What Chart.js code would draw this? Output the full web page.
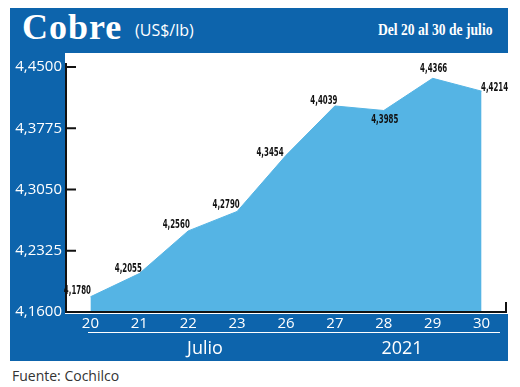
<!DOCTYPE html>
<html><head><meta charset="utf-8">
<script src="https://cdn.jsdelivr.net/npm/chart.js@4/dist/chart.umd.min.js"></script>
<style>
html,body{margin:0;padding:0;background:#fff;width:520px;height:387px;overflow:hidden;font-family:'Open Sans',sans-serif}
#panel{position:absolute;left:10px;top:8px;width:498px;height:353px;background:#0d64ac}
#title{position:absolute;left:22px;top:6px;color:#fff;font:bold 36px 'Liberation Serif',serif;letter-spacing:1px}
#unit{position:absolute;left:135px;top:19px;color:#fff;font:16px 'Open Sans',sans-serif}
#range{position:absolute;left:378px;top:20px;color:#fff;font:bold 17px 'Liberation Serif',serif;white-space:nowrap;transform:scaleX(0.8);transform-origin:left top}
#cv{position:absolute;left:10px;top:53px}
#sep{position:absolute;left:88px;top:332px;width:412px;height:1px;background:#fff}
.grp{position:absolute;top:335px;color:#fff;font:18px 'Open Sans',sans-serif;transform:translateX(-50%)}
#foot{position:absolute;left:12px;top:366px;color:#333;font:14px 'Open Sans',sans-serif}
</style></head>
<body>
<div id="panel"></div>
<div id="title">Cobre</div>
<div id="unit">(US$/lb)</div>
<div id="range">Del 20 al 30 de julio</div>
<canvas id="cv" width="498" height="308"></canvas>
<div id="sep"></div>
<div class="grp" style="left:205px">Julio</div>
<div class="grp" style="left:402px">2021</div>
<div id="foot">Fuente: Cochilco</div>
<script>
const categories = ['20','21','22','23','26','27','28','29','30'];
const copperPrice = [4.1780, 4.2055, 4.2560, 4.2790, 4.3454, 4.4039, 4.3985, 4.4366, 4.4214];
const yTickValues = [4.1600, 4.2325, 4.3050, 4.3775, 4.4500];

const fmt = v => v.toFixed(4).replace('.', ',');
const labelOffsets = [[-13,-6],[-11,-5],[-12,-6],[-11,-6],[-16,-2],[-11,-5],[1,10],[1,-9],[13,-3]];

const bgPlugin = {
  id: 'plotBg',
  beforeDraw(chart) {
    const {ctx, chartArea: a} = chart;
    ctx.save();
    ctx.fillStyle = '#ffffff';
    ctx.fillRect(a.left - 1, 0, chart.width - a.left + 1, a.bottom + 2);
    ctx.restore();
  }
};
const axisPlugin = {
  id: 'axisDeco',
  afterDraw(chart) {
    const {ctx, chartArea: a} = chart;
    const y = chart.scales.y;
    ctx.save();
    ctx.strokeStyle = '#111';
    ctx.lineWidth = 2;
    ctx.beginPath();
    ctx.moveTo(a.left, a.top - 4); ctx.lineTo(a.left, a.bottom);
    ctx.lineTo(a.right, a.bottom); ctx.lineTo(a.right, a.bottom - 10);
    yTickValues.forEach(v => {
      const py = y.getPixelForValue(v);
      ctx.moveTo(a.left, py); ctx.lineTo(a.left + 10, py);
    });
    ctx.stroke();
    const meta = chart.getDatasetMeta(0);
    ctx.fillStyle = '#111';
    ctx.font = "bold 11.5px 'Liberation Sans Narrow', 'DejaVu Sans Condensed', sans-serif";
    ctx.textAlign = 'center';
    ctx.textBaseline = 'middle';
    meta.data.forEach((pt, i) => {
      const [dx, dy] = labelOffsets[i];
      ctx.save();
      ctx.translate(pt.x + dx, pt.y + dy);
      ctx.scale(0.68, 1);
      ctx.fillText(fmt(copperPrice[i]), 0, 0);
      ctx.restore();
    });
    ctx.restore();
  }
};

new Chart(document.getElementById('cv'), {
  type: 'line',
  data: {
    labels: categories,
    datasets: [{
      data: copperPrice,
      fill: 'origin',
      backgroundColor: '#55b4e4',
      borderColor: '#55b4e4',
      borderWidth: 1,
      pointRadius: 0,
      tension: 0
    }]
  },
  options: {
    responsive: false,
    animation: false,
    layout: {padding: {top: 14, right: 2, left: 0, bottom: 0}},
    plugins: {legend: {display: false}, tooltip: {enabled: false}},
    scales: {
      x: {
        type: 'category',
        offset: true,
        grid: {display: false, drawTicks: false},
        border: {display: false},
        ticks: {color: '#fff', font: {family: "'Open Sans', sans-serif", size: 15}, padding: 3, maxRotation: 0},
        afterFit: s => { s.height = 49; }
      },
      y: {
        min: 4.16, max: 4.45,
        afterBuildTicks: s => { s.ticks = yTickValues.map(v => ({value: v})); },
        grid: {display: false, drawTicks: false},
        border: {display: false},
        ticks: {color: '#fff', font: {family: "'Open Sans', sans-serif", size: 15}, padding: 4, callback: v => fmt(v)},
        afterFit: s => { s.width = 56; }
      }
    }
  },
  plugins: [bgPlugin, axisPlugin]
});
</script>
</body></html>
